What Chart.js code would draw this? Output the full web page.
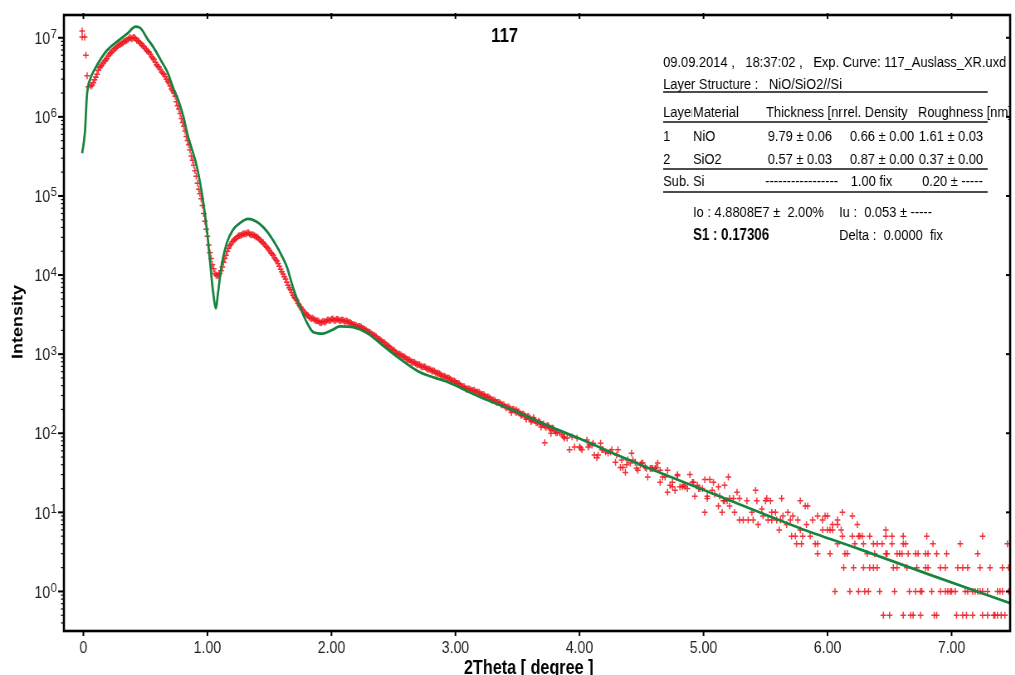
<!DOCTYPE html>
<html>
<head>
<meta charset="utf-8">
<script src="https://cdn.jsdelivr.net/npm/chart.js@4.4.1/dist/chart.umd.min.js"></script>
<style>
  html, body { margin: 0; padding: 0; background: #fff; overflow: hidden; }
  #sheet { position: relative; width: 1015px; height: 675px; overflow: hidden; background: #fff; }
  /* the plot is laid out on a wider canvas and narrowed to the page width */
  #plot { position: absolute; left: 0; top: 0; transform: scaleX(0.83); transform-origin: 0 0; }
</style>
</head>
<body>
<div id="sheet"><canvas id="plot" width="1223" height="675"></canvas></div>
<script>
// ---- axis ticks ----
const xTickValues = [0, 1, 2, 3, 4, 5, 6, 7];
const xTickLabels = ['0', '1.00', '2.00', '3.00', '4.00', '5.00', '6.00', '7.00'];
const yDecades = [0, 1, 2, 3, 4, 5, 6, 7];

// ---- measured reflectivity (2Theta in degree, intensity) ----
// direct-beam points at the start of the scan
const beamAngle  = [-0.01, -0.01, 0.01, 0.02, 0.03, 0.04];
const beamCounts = [1.22e7, 1.02e7, 1.02e7, 6.03e6, 3.31e6, 2.40e6];

// regular part of the scan, even hundredths
const scanAngleEven = [
  0.06,0.08,0.10,0.12,0.14,0.16,0.18,0.20,0.22,0.24,
  0.26,0.28,0.30,0.32,0.34,0.36,0.38,0.40,0.42,0.44,
  0.46,0.48,0.50,0.52,0.54,0.56,0.58,0.60,0.62,0.64,
  0.66,0.68,0.70,0.72,0.74,0.76,0.78,0.80,0.82,0.84,
  0.86,0.88,0.90,0.92,0.94,0.96,0.98,1.00,1.02,1.04,
  1.06,1.08,1.10,1.12,1.14,1.16,1.18,1.20,1.22,1.24,
  1.26,1.28,1.30,1.32,1.34,1.36,1.38,1.40,1.42,1.44,
  1.46,1.48,1.50,1.52,1.54,1.56,1.58,1.60,1.62,1.64,
  1.66,1.68,1.70,1.72,1.74,1.76,1.78,1.80,1.82,1.84,
  1.86,1.88,1.90,1.92,1.94,1.96,1.98,2.00,2.02,2.04,
  2.06,2.08,2.10,2.12,2.14,2.16,2.18,2.20,2.22,2.24,
  2.26,2.28,2.30,2.32,2.34,2.36,2.38,2.40,2.42,2.44,
  2.46,2.48,2.50,2.52,2.54,2.56,2.58,2.60,2.62,2.64,
  2.66,2.68,2.70,2.72,2.74,2.76,2.78,2.80,2.82,2.84,
  2.86,2.88,2.90,2.92,2.94,2.96,2.98,3.00,3.02,3.04,
  3.06,3.08,3.10,3.12,3.14,3.16,3.18,3.20,3.22,3.24,
  3.26,3.28,3.30,3.32,3.34,3.36,3.38,3.40,3.42,3.44,
  3.46,3.48,3.50,3.52,3.54,3.56,3.58,3.60,3.62,3.64,
  3.66,3.68,3.70,3.72,3.74,3.76,3.78,3.80,3.82
];
const scanCountsEven = [
  2.45e6,2.69e6,3.16e6,3.89e6,4.37e6,4.79e6,5.25e6,5.89e6,6.46e6,6.92e6,
  7.41e6,7.94e6,8.32e6,8.71e6,9.12e6,9.55e6,1.00e7,1.00e7,9.77e6,9.12e6,
  8.51e6,7.94e6,7.24e6,6.76e6,6.17e6,5.50e6,4.90e6,4.37e6,3.98e6,3.55e6,
  3.24e6,2.82e6,2.45e6,2.14e6,1.82e6,1.38e6,1.10e6,8.51e5,6.61e5,5.01e5,
  3.80e5,2.82e5,2.09e5,1.45e5,1.07e5,7.59e4,4.79e4,3.09e4,1.91e4,1.35e4,
  10500,9770,10500,12600,16200,20000,23400,26300,28200,30200,
  31600,32400,33100,33900,33100,32400,31600,30200,28200,26300,
  24500,22400,20400,18600,16600,15100,12900,11000,9550,8130,
  6920,6030,5250,4790,4170,3720,3390,3160,2950,2820,
  2750,2630,2570,2510,2570,2630,2690,2750,2690,2750,
  2690,2690,2630,2630,2510,2450,2340,2290,2240,2190,
  2090,2000,1910,1820,1740,1660,1550,1480,1410,1320,
  1260,1170,1120,1050,1000,977,933,891,851,813,
  794,759,741,708,692,676,646,631,617,589,
  575,550,525,513,501,479,457,447,427,407,
  389,372,363,355,347,339,331,316,309,295,
  288,275,263,257,245,240,229,219,214,204,
  200,191,186,178,174,166,162,155,148,145,
  135,138,129,123,126,115,117,107,102
];

// regular part of the scan, odd hundredths
const scanAngleOdd = [
  0.07,0.09,0.11,0.13,0.15,0.17,0.19,0.21,0.23,0.25,
  0.27,0.29,0.31,0.33,0.35,0.37,0.39,0.41,0.43,0.45,
  0.47,0.49,0.51,0.53,0.55,0.57,0.59,0.61,0.63,0.65,
  0.67,0.69,0.71,0.73,0.75,0.77,0.79,0.81,0.83,0.85,
  0.87,0.89,0.91,0.93,0.95,0.97,0.99,1.01,1.03,1.05,
  1.07,1.09,1.11,1.13,1.15,1.17,1.19,1.21,1.23,1.25,
  1.27,1.29,1.31,1.33,1.35,1.37,1.39,1.41,1.43,1.45,
  1.47,1.49,1.51,1.53,1.55,1.57,1.59,1.61,1.63,1.65,
  1.67,1.69,1.71,1.73,1.75,1.77,1.79,1.81,1.83,1.85,
  1.87,1.89,1.91,1.93,1.95,1.97,1.99,2.01,2.03,2.05,
  2.07,2.09,2.11,2.13,2.15,2.17,2.19,2.21,2.23,2.25,
  2.27,2.29,2.31,2.33,2.35,2.37,2.39,2.41,2.43,2.45,
  2.47,2.49,2.51,2.53,2.55,2.57,2.59,2.61,2.63,2.65,
  2.67,2.69,2.71,2.73,2.75,2.77,2.79,2.81,2.83,2.85,
  2.87,2.89,2.91,2.93,2.95,2.97,2.99,3.01,3.03,3.05,
  3.07,3.09,3.11,3.13,3.15,3.17,3.19,3.21,3.23,3.25,
  3.27,3.29,3.31,3.33,3.35,3.37,3.39,3.41,3.43,3.45,
  3.47,3.49,3.51,3.53,3.55,3.57,3.59,3.61,3.63,3.65,
  3.67,3.69,3.71,3.73,3.75,3.77,3.79,3.81
];
const scanCountsOdd = [
  2.52e6,2.95e6,3.45e6,4.20e6,4.52e6,5.10e6,5.45e6,6.25e6,6.60e6,7.25e6,
  7.60e6,8.20e6,8.45e6,9.00e6,9.25e6,9.90e6,9.70e6,1.01e7,9.30e6,8.90e6,
  8.10e6,7.70e6,6.90e6,6.55e6,5.75e6,5.30e6,4.55e6,4.25e6,3.70e6,3.45e6,
  2.98e6,2.68e6,2.25e6,2.00e6,1.55e6,1.26e6,9.50e5,7.60e5,5.65e5,4.45e5,
  3.20e5,2.45e5,1.78e5,1.22e5,9.20e4,6.00e4,3.80e4,2.40e4,1.62e4,1.20e4,
  10000,10000,11300,14500,17800,21900,24500,27500,28800,31300,
  31800,33300,33200,34300,32200,32300,30500,29500,27000,25700,
  23200,21600,19200,17800,15700,14000,11800,10300,8900,7450,
  6500,5550,5050,4400,3950,3600,3250,3080,2850,2850,
  2680,2650,2480,2600,2550,2720,2660,2790,2660,2780,
  2640,2720,2580,2600,2520,2380,2350,2230,2250,2120,
  2060,1930,1880,1760,1720,1580,1540,1420,1390,1270,
  1230,1130,1100,1010,1000,945,925,860,845,790,
  785,735,735,690,695,650,648,612,610,570,
  568,530,527,497,498,460,458,428,424,390,
  387,360,365,345,350,328,330,305,308,285,
  287,264,265,245,248,228,230,210,215,196,
  201,183,187,170,175,158,163,146,151,136,
  142,128,131,118,124,110,114,101
];

// scattered points at larger angles
const noisyAngle = [
  3.45,3.49,3.53,3.57,3.61,3.63,3.69,3.72,3.77,
  3.84,3.86,3.87,3.88,3.90,3.92,3.94,3.96,3.98,4.00,4.01,4.02,4.06,4.07,4.08,4.10,4.11,4.12,4.14,4.15,
  4.17,4.18,4.19,4.21,4.23,4.25,4.26,4.29,4.30,4.31,4.33,4.34,4.35,4.37,4.38,4.39,4.41,4.42,4.43,4.45,
  4.46,4.47,4.49,4.50,4.51,4.53,4.54,4.55,4.57,4.58,4.59,4.61,4.62,4.63,4.65,4.65,4.67,4.69,4.71,4.71,
  4.73,4.75,4.75,4.77,4.79,4.79,4.81,4.83,4.84,4.85,4.87,4.89,4.91,4.92,4.93,4.95,4.96,4.97,4.99,
  5.01,5.01,5.03,5.03,5.05,5.07,5.08,5.09,5.12,5.12,5.13,5.15,5.16,5.17,5.17,5.19,5.20,5.21,5.21,5.24,
  5.25,5.27,5.29,5.29,5.32,5.35,5.36,5.39,5.40,5.42,5.43,5.44,5.47,5.48,5.50,5.51,5.52,5.54,5.55,5.55,
  5.58,5.59,5.61,5.62,5.63,5.64,5.67,5.68,5.70,5.71,5.72,5.74,5.75,5.76,5.78,5.78,5.79,5.80,5.82,5.83,
  5.84,5.86,5.88,5.90,5.92,5.92,5.92,5.96,5.96,5.98,6.00,6.00,6.02,6.02,6.04,6.04,6.06,6.08,6.08,6.08,
  6.11,6.12,6.12,6.13,6.14,6.16,6.18,6.20,6.20,6.21,6.22,6.24,6.25,6.25,6.26
];
const noisyCounts = [
  183,198,168,150,140,157,120,76,100,
  101,96,90,87,87,62,90,67,87,67,65,62,82,67,71,71,75,53,49,53,
  75,62,62,58,56,58,62,43,53,62,37,46,37,32,40,46,42,56,46,43,
  36,34,40,42,42,37,36,28,36,36,36,36,37,42,24,34,28,28,34,18,
  22,24,21,19,29,30,21,21,22,21,20,30,24,24,16,22,20,20,20,
  26,10,15,16,26,19,24,17,21,12,16,10,14,22,14,14,28,12,15,15,
  10,18,15,8,8,14,8,10,8,19,14,7,11,9,14,15,8,14,10,8,
  10,8,6,8,15,9,7,10,8,5,9,5,4,8,14,6,4,5,12,7,
  12,5,8,4,9,4,3,8,6,9,9,6,6,3,6,7,1,8,7,4,
  6,5,10,2,3,3,1,9,5,2,4,7,5,1,5
];

// far tail: count level and the angles where it was recorded
const tailLevels = [0.5, 1, 2, 3, 4, 5, 6];
const tailAngles = [
  [6.45,6.50,6.61,6.67,6.69,6.75,6.86,6.88,7.04,7.09,7.12,7.17,7.25,7.29,7.34,7.35,7.37,7.40,7.43],
  [6.30,6.33,6.42,6.54,6.66,6.71,6.75,6.76,6.84,6.91,6.95,6.97,6.99,7.00,7.03,7.11,7.13,7.17,7.19,
   7.21,7.23,7.25,7.29,7.37,7.39,7.41,7.46],
  [6.29,6.34,6.37,6.40,6.53,6.56,6.64,6.72,6.79,6.81,6.91,6.95,7.05,7.09,7.13,7.23,7.31,7.41,7.46],
  [6.32,6.38,6.47,6.48,6.56,6.58,6.60,6.65,6.71,6.73,6.79,6.81,6.88,6.96,7.21],
  [6.29,6.37,6.40,6.44,6.52,6.61,6.63,6.85,7.07,7.45],
  [6.28,6.34,6.47,6.52,6.61,6.80,7.25],
  [6.47]
];

// ---- simulated curve of the layer model ----
const fitAngle = [
  -0.01,0.012,0.029,0.058,0.098,0.139,0.189,0.270,0.351,0.421,
  0.461,0.515,0.569,0.623,0.676,0.730,0.770,0.810,0.837,0.915,
  0.964,0.996,1.020,1.044,1.069,1.085,1.117,1.157,1.206,1.265,
  1.327,1.390,1.448,1.505,1.560,1.600,1.641,1.689,1.746,1.802,
  1.851,1.931,2.000,2.069,2.173,2.286,2.391,2.528,2.714,2.931,
  3.198,3.464,3.738,4.004,4.270,4.544,4.972,5.214,5.778,6.262,
  6.827,7.472
];
const fitIntensity = [
  3.47e5,6.31e5,1.91e6,3.09e6,4.17e6,5.37e6,6.92e6,8.91e6,1.12e7,1.38e7,
  1.32e7,9.77e6,7.41e6,5.25e6,3.72e6,2.19e6,1.55e6,9.55e5,6.17e5,2.34e5,
  8.91e4,3.72e4,1.55e4,6460,3800,5890,14100,25700,37200,45700,
  51300,47900,40700,31600,22900,17400,12600,7080,3980,2510,
  1910,1820,2000,2240,2190,1860,1380,933,589,447,
  288,195,126,85,56,37,20,14.1,6.3,3.4,
  1.62,0.71
];

// ---- fit report ----
const plotTitle = '117';
const runInfo = '09.09.2014 ,   18:37:02 ,   Exp. Curve: 117_Auslass_XR.uxd';
const layerStructure = 'Layer Structure :   NiO/SiO2//Si';
const layerHeader = ['Layer', 'Material', 'Thickness [nm]', 'rel. Density', 'Roughness [nm]'];
const layerRows = [
  ['1', 'NiO', '9.79 \u00b1 0.06', '0.66 \u00b1 0.00', '1.61 \u00b1 0.03'],
  ['2', 'SiO2', '0.57 \u00b1 0.03', '0.87 \u00b1 0.00', '0.37 \u00b1 0.00']
];
const substrateRow = ['Sub.', 'Si', '-----------------', '1.00 fix', '0.20 \u00b1 -----'];
const fitStats = ['Io : 4.8808E7 \u00b1  2.00%', 'Iu :  0.053 \u00b1 -----', 'S1 : 0.17306', 'Delta :  0.0000  fix'];

const xLabel = '2Theta [ degree ]';
const yLabel = 'Intensity';

// ---- point lists for the datasets ----
const measured = [];
beamAngle.forEach((a, i) => measured.push({ x: a, y: beamCounts[i] }));
scanAngleEven.forEach((a, i) => measured.push({ x: a, y: scanCountsEven[i] }));
scanAngleOdd.forEach((a, i) => measured.push({ x: a, y: scanCountsOdd[i] }));
noisyAngle.forEach((a, i) => measured.push({ x: a, y: noisyCounts[i] }));
tailLevels.forEach((lvl, r) => tailAngles[r].forEach(a => measured.push({ x: a, y: lvl })));
const simulated = fitAngle.map((a, i) => ({ x: a, y: fitIntensity[i] }));

const FONT = '"Liberation Sans", Arial, Helvetica, sans-serif';
const REPORT_FONT = '15.5px ' + FONT;

// frame, ticks, labels and the report block
const frameAndText = {
  id: 'frameAndText',
  afterDraw(chart) {
    const { ctx, chartArea: a } = chart;
    const xs = chart.scales.x, ys = chart.scales.y;
    const seg = (x1, y1, x2, y2) => { ctx.beginPath(); ctx.moveTo(x1, y1); ctx.lineTo(x2, y2); ctx.stroke(); };
    ctx.save();
    ctx.strokeStyle = '#000';

    // minor ticks of the log axis
    ctx.lineWidth = 1.2;
    for (let d = -1; d <= 7; d++) {
      for (let m = 2; m <= 9; m++) {
        const v = m * Math.pow(10, d);
        if (v < ys.min || v > ys.max) continue;
        const py = ys.getPixelForValue(v);
        seg(a.left - 3.5, py, a.left, py);
      }
    }
    // decade ticks
    ctx.lineWidth = 2;
    yDecades.forEach(d => {
      const py = ys.getPixelForValue(Math.pow(10, d));
      seg(a.left - 7, py, a.left, py);
      seg(a.right - 5, py, a.right, py);
    });
    xTickValues.forEach(v => {
      const px = xs.getPixelForValue(v);
      seg(px, a.bottom, px, a.bottom + 5);
      seg(px, a.top - 2, px, a.top + 4);
    });
    // plot frame
    ctx.lineWidth = 2.6;
    ctx.strokeRect(a.left, a.top, a.right - a.left, a.bottom - a.top);

    // x tick labels
    ctx.fillStyle = '#222';
    ctx.font = '17px ' + FONT;
    ctx.textAlign = 'center';
    ctx.textBaseline = 'alphabetic';
    xTickValues.forEach((v, i) => ctx.fillText(xTickLabels[i], xs.getPixelForValue(v), 653));

    // y tick labels as 10 with a raised exponent
    yDecades.forEach(d => {
      const py = ys.getPixelForValue(Math.pow(10, d));
      const exp = String(d);
      ctx.font = '13.5px ' + FONT;
      const ew = ctx.measureText(exp).width;
      const right = a.left - 8.5;
      ctx.textAlign = 'left';
      ctx.fillText(exp, right - ew, py + 0.5);
      ctx.font = '17px ' + FONT;
      ctx.textAlign = 'right';
      ctx.fillText('10', right - ew - 0.5, py + 6.2);
    });

    // axis titles
    ctx.fillStyle = '#000';
    ctx.font = 'bold 19.5px ' + FONT;
    ctx.textAlign = 'center';
    ctx.fillText(xLabel, 637, 674);
    ctx.save();
    ctx.translate(22, 322);
    ctx.rotate(-Math.PI / 2);
    ctx.font = 'bold 18px ' + FONT;
    ctx.textBaseline = 'middle';
    ctx.fillText(yLabel, 0, 0);
    ctx.restore();

    // plot title
    ctx.font = 'bold 20px ' + FONT;
    ctx.textAlign = 'center';
    ctx.fillText(plotTitle, 608, 42);

    // report block
    const c1 = 799, c2 = 835, lineEnd = 1190;
    ctx.font = REPORT_FONT;
    ctx.textAlign = 'left';
    ctx.fillText(runInfo, c1, 67);
    ctx.fillText(layerStructure, c1, 88.5);

    const clipText = (txt, x, y, maxRight) => {
      ctx.save();
      ctx.beginPath();
      ctx.rect(x - 2, y - 20, maxRight - x + 2, 30);
      ctx.clip();
      ctx.fillText(txt, x, y);
      ctx.restore();
    };
    clipText(layerHeader[0], c1, 117, c2 - 1);
    ctx.fillText(layerHeader[1], c2, 117);
    clipText(layerHeader[2], 923, 117, 1015);
    ctx.fillText(layerHeader[3], 1016, 117);
    ctx.fillText(layerHeader[4], 1106, 117);

    const rowY = [140.5, 163.5];
    layerRows.forEach((r, i) => {
      ctx.fillText(r[0], c1, rowY[i]);
      ctx.fillText(r[1], c2, rowY[i]);
      ctx.fillText(r[2], 925, rowY[i]);
      ctx.fillText(r[3], 1024, rowY[i]);
      ctx.fillText(r[4], 1107, rowY[i]);
    });
    ctx.fillText(substrateRow[0], c1, 185.5);
    ctx.fillText(substrateRow[1], c2, 185.5);
    ctx.fillText(substrateRow[2], 922, 185.5);
    ctx.fillText(substrateRow[3], 1025, 185.5);
    ctx.fillText(substrateRow[4], 1111, 185.5);

    ctx.fillText(fitStats[0], c2, 216.5);
    ctx.fillText(fitStats[1], 1011, 216.5);
    ctx.font = 'bold 16px ' + FONT;
    ctx.fillText(fitStats[2], c2, 240);
    ctx.font = REPORT_FONT;
    ctx.fillText(fitStats[3], 1011, 240);

    ctx.strokeStyle = '#111';
    ctx.lineWidth = 1.3;
    [92, 122, 169, 192].forEach(yy => seg(c1, yy, lineEnd, yy));
    ctx.restore();
  }
};

new Chart(document.getElementById('plot'), {
  type: 'scatter',
  data: {
    datasets: [
      {
        label: 'simulation',
        type: 'line',
        data: simulated,
        borderColor: '#16843f',
        borderWidth: 2.7,
        pointRadius: 0,
        cubicInterpolationMode: 'monotone',
        fill: false,
        order: 0
      },
      {
        label: 'measurement',
        data: measured,
        showLine: false,
        pointStyle: 'cross',
        pointRadius: 3.4,
        pointBorderWidth: 1.5,
        pointBorderColor: 'rgba(238, 26, 34, 0.88)',
        pointBackgroundColor: 'rgba(238, 26, 34, 0.88)',
        order: 1
      }
    ]
  },
  options: {
    responsive: false,
    animation: false,
    devicePixelRatio: 1,
    layout: { padding: { left: 77, right: 6, top: 15, bottom: 44 } },
    scales: {
      x: { type: 'linear', display: false, min: -0.157, max: 7.472, bounds: 'data' },
      y: { type: 'logarithmic', display: false, min: 0.3162, max: 1.94e7, bounds: 'data' }
    },
    plugins: {
      legend: { display: false },
      tooltip: { enabled: false }
    }
  },
  plugins: [frameAndText]
});
</script>
</body>
</html>
